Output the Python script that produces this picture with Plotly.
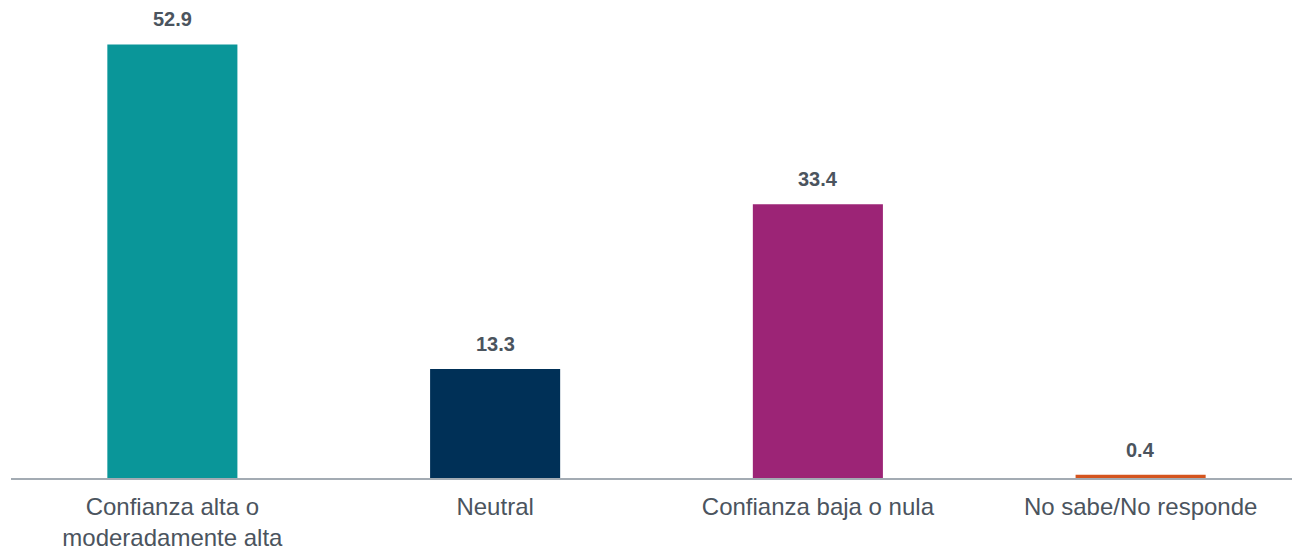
import plotly.graph_objects as go

categories = ["Confianza alta o<br>moderadamente alta", "Neutral",
              "Confianza baja o nula", "No sabe/No responde"]
values = [52.9, 13.3, 33.4, 0.4]
bar_colors = ["#0A9699", "#003057", "#9C2476", "#D4541E"]

TEXT = "#4B545E"
FONT = "Liberation Sans, Arial"

fig = go.Figure(go.Bar(
    x=categories,
    y=values,
    marker=dict(color=bar_colors, line_width=0),
    width=0.403,
    hoverinfo="x+y",
))

# value labels above bars
for cat, v in zip(categories, values):
    fig.add_annotation(
        x=cat, y=v, text=f"<b>{v:.1f}</b>",
        showarrow=False, yanchor="bottom", yshift=12,
        font=dict(family=FONT, size=20, color=TEXT),
    )

fig.update_layout(
    width=1300, height=546,
    margin=dict(l=3, r=6, t=11, b=76),
    plot_bgcolor="white", paper_bgcolor="white",
    showlegend=False,
    font=dict(family=FONT, color=TEXT, size=24),
)
fig.update_xaxes(showline=True, linecolor="#A3ABB3", linewidth=2,
                 ticks="", automargin=False, ticklabelstandoff=6,
                 tickfont=dict(size=24, color=TEXT))
fig.update_yaxes(visible=False, range=[0, 56], automargin=False)

fig.write_html("out.html")
